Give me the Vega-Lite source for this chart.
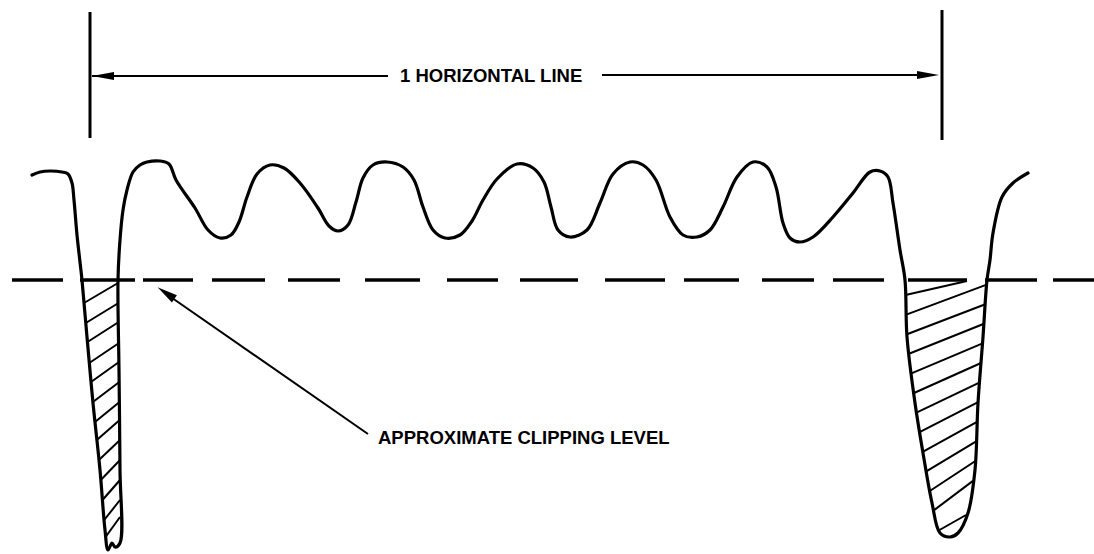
{
  "$schema": "https://vega.github.io/schema/vega-lite/v6.json",
  "width": 1094,
  "height": 554,
  "autosize": "none",
  "padding": 0,
  "background": "white",
  "config": {"view": {"stroke": null}},
  "layer": [
    {
      "data": {"values": [
        {"i":0,"x":32,"y":175},{"i":1,"x":40,"y":172},{"i":2,"x":50,"y":171},{"i":3,"x":62,"y":172},{"i":4,"x":68,"y":174},{"i":5,"x":72,"y":183},{"i":6,"x":74,"y":200},{"i":7,"x":77,"y":235},{"i":8,"x":80,"y":262},{"i":9,"x":82,"y":280},{"i":10,"x":87,"y":337},{"i":11,"x":93,"y":403},{"i":12,"x":100,"y":470},{"i":13,"x":105,"y":530},{"i":14,"x":108,"y":550},{"i":15,"x":112,"y":543},{"i":16,"x":115,"y":547},{"i":17,"x":120,"y":543},{"i":18,"x":120,"y":470},{"i":19,"x":119,"y":370},{"i":20,"x":118,"y":280},{"i":21,"x":120,"y":240},{"i":22,"x":123,"y":210},{"i":23,"x":127,"y":190},{"i":24,"x":133,"y":172},{"i":25,"x":140,"y":165},{"i":26,"x":147,"y":162},{"i":27,"x":160,"y":161},{"i":28,"x":169,"y":164},{"i":29,"x":176,"y":180},{"i":30,"x":195,"y":208},{"i":31,"x":208,"y":230},{"i":32,"x":220,"y":238},{"i":33,"x":231,"y":235},{"i":34,"x":239,"y":222},{"i":35,"x":247,"y":197},{"i":36,"x":257,"y":174},{"i":37,"x":270,"y":165},{"i":38,"x":284,"y":168},{"i":39,"x":300,"y":183},{"i":40,"x":318,"y":208},{"i":41,"x":329,"y":226},{"i":42,"x":338,"y":231},{"i":43,"x":348,"y":225},{"i":44,"x":356,"y":202},{"i":45,"x":363,"y":178},{"i":46,"x":373,"y":165},{"i":47,"x":387,"y":162},{"i":48,"x":403,"y":167},{"i":49,"x":414,"y":180},{"i":50,"x":423,"y":207},{"i":51,"x":433,"y":230},{"i":52,"x":445,"y":238},{"i":53,"x":460,"y":235},{"i":54,"x":472,"y":221},{"i":55,"x":483,"y":200},{"i":56,"x":497,"y":179},{"i":57,"x":517,"y":164},{"i":58,"x":533,"y":168},{"i":59,"x":544,"y":182},{"i":60,"x":551,"y":207},{"i":61,"x":558,"y":230},{"i":62,"x":570,"y":237},{"i":63,"x":587,"y":230},{"i":64,"x":600,"y":203},{"i":65,"x":613,"y":174},{"i":66,"x":630,"y":162},{"i":67,"x":643,"y":165},{"i":68,"x":656,"y":180},{"i":69,"x":670,"y":217},{"i":70,"x":683,"y":235},{"i":71,"x":697,"y":237},{"i":72,"x":710,"y":230},{"i":73,"x":723,"y":207},{"i":74,"x":737,"y":177},{"i":75,"x":753,"y":162},{"i":76,"x":767,"y":167},{"i":77,"x":776,"y":187},{"i":78,"x":783,"y":223},{"i":79,"x":790,"y":238},{"i":80,"x":800,"y":242},{"i":81,"x":813,"y":237},{"i":82,"x":833,"y":217},{"i":83,"x":853,"y":193},{"i":84,"x":870,"y":172},{"i":85,"x":880,"y":171},{"i":86,"x":888,"y":177},{"i":87,"x":893,"y":203},{"i":88,"x":900,"y":250},{"i":89,"x":905,"y":280},{"i":90,"x":907,"y":337},{"i":91,"x":915,"y":403},{"i":92,"x":923,"y":453},{"i":93,"x":932,"y":503},{"i":94,"x":940,"y":533},{"i":95,"x":950,"y":537},{"i":96,"x":958,"y":533},{"i":97,"x":968,"y":513},{"i":98,"x":975,"y":470},{"i":99,"x":978,"y":403},{"i":100,"x":983,"y":337},{"i":101,"x":987,"y":280},{"i":102,"x":990,"y":260},{"i":103,"x":993,"y":233},{"i":104,"x":1002,"y":197},{"i":105,"x":1013,"y":183},{"i":106,"x":1028,"y":173}
      ]},
      "mark": {"type": "line", "color": "black", "strokeWidth": 3.2, "interpolate": "catmull-rom", "strokeJoin": "round", "strokeCap": "round"},
      "encoding": {
        "x": {"field": "x", "type": "quantitative", "scale": {"domain": [0, 1094]}, "axis": null},
        "y": {"field": "y", "type": "quantitative", "scale": {"domain": [554, 0]}, "axis": null},
        "order": {"field": "i", "type": "quantitative"}
      }
    },
    {
      "data": {"values": [
        {"x":84,"y":303,"x2":118,"y2":283},{"x":85.8,"y":323,"x2":118.5,"y2":303},{"x":87.5,"y":342,"x2":118.7,"y2":322},{"x":89.3,"y":363,"x2":119,"y2":343},{"x":91,"y":382,"x2":119,"y2":362},{"x":92.9,"y":402,"x2":119.3,"y2":382},{"x":95,"y":422,"x2":119.5,"y2":402},{"x":96.8,"y":440,"x2":119.7,"y2":420},{"x":98.9,"y":460,"x2":120,"y2":440},{"x":100.8,"y":480,"x2":120,"y2":460},{"x":102.5,"y":500,"x2":120,"y2":480},{"x":104.2,"y":520,"x2":120,"y2":500},{"x":105.6,"y":537,"x2":120,"y2":517},
        {"x":905.5,"y":295,"x2":967,"y2":281},{"x":906.3,"y":314.6,"x2":986.7,"y2":284.6},{"x":907,"y":334.2,"x2":985.3,"y2":304.2},{"x":909,"y":353.8,"x2":984,"y2":323.8},{"x":911.4,"y":373.4,"x2":982.6,"y2":343.4},{"x":914,"y":393,"x2":981,"y2":363},{"x":916.5,"y":412.6,"x2":979.3,"y2":382.6},{"x":919.6,"y":432.2,"x2":978.1,"y2":402.2},{"x":922.7,"y":451.8,"x2":977,"y2":421.8},{"x":926.3,"y":471.4,"x2":976.2,"y2":441.4},{"x":929.8,"y":491,"x2":975.4,"y2":461},{"x":933.5,"y":510.6,"x2":973.3,"y2":480.6},{"x":939.5,"y":530,"x2":966,"y2":515}
      ]},
      "mark": {"type": "rule", "color": "black", "strokeWidth": 2},
      "encoding": {
        "x": {"field": "x", "type": "quantitative", "scale": {"domain": [0, 1094]}, "axis": null},
        "y": {"field": "y", "type": "quantitative", "scale": {"domain": [554, 0]}, "axis": null},
        "x2": {"field": "x2"},
        "y2": {"field": "y2"}
      }
    },
    {
      "data": {"values": [{"x": 12, "x2": 1094, "y": 280}]},
      "mark": {"type": "rule", "color": "black", "strokeWidth": 3.6, "strokeCap": "butt", "strokeDash": [51,17,55,8,50,19,53,23,52,25,55,27,51,22,58,27,60,19,55,23,52,19,51,24,59,18,52,16,60,20]},
      "encoding": {
        "x": {"field": "x", "type": "quantitative", "scale": {"domain": [0, 1094]}, "axis": null},
        "x2": {"field": "x2"},
        "y": {"field": "y", "type": "quantitative", "scale": {"domain": [554, 0]}, "axis": null}
      }
    },
    {
      "data": {"values": [{"x": 90, "y": 12, "y2": 138}, {"x": 942, "y": 10, "y2": 140}]},
      "mark": {"type": "rule", "color": "black", "strokeWidth": 3},
      "encoding": {
        "x": {"field": "x", "type": "quantitative", "scale": {"domain": [0, 1094]}, "axis": null},
        "y": {"field": "y", "type": "quantitative", "scale": {"domain": [554, 0]}, "axis": null},
        "y2": {"field": "y2"}
      }
    },
    {
      "data": {"values": [
        {"x": 92, "y": 76, "x2": 388, "y2": 76},
        {"x": 602, "y": 75, "x2": 930, "y2": 75},
        {"x": 368, "y": 434, "x2": 165, "y2": 293}
      ]},
      "mark": {"type": "rule", "color": "black", "strokeWidth": 2},
      "encoding": {
        "x": {"field": "x", "type": "quantitative", "scale": {"domain": [0, 1094]}, "axis": null},
        "y": {"field": "y", "type": "quantitative", "scale": {"domain": [554, 0]}, "axis": null},
        "x2": {"field": "x2"},
        "y2": {"field": "y2"}
      }
    },
    {
      "data": {"values": [{"x": 103, "y": 76}]},
      "mark": {"type": "point", "filled": true, "color": "black", "opacity": 1, "size": 484, "shape": "M -1 0 L 1 -0.36 L 1 0.36 Z"},
      "encoding": {
        "x": {"field": "x", "type": "quantitative", "scale": {"domain": [0, 1094]}, "axis": null},
        "y": {"field": "y", "type": "quantitative", "scale": {"domain": [554, 0]}, "axis": null}
      }
    },
    {
      "data": {"values": [{"x": 928, "y": 75}]},
      "mark": {"type": "point", "filled": true, "color": "black", "opacity": 1, "size": 484, "shape": "M 1 0 L -1 -0.36 L -1 0.36 Z"},
      "encoding": {
        "x": {"field": "x", "type": "quantitative", "scale": {"domain": [0, 1094]}, "axis": null},
        "y": {"field": "y", "type": "quantitative", "scale": {"domain": [554, 0]}, "axis": null}
      }
    },
    {
      "data": {"values": [{"x": 166, "y": 293}]},
      "mark": {"type": "point", "filled": true, "color": "black", "opacity": 1, "size": 420, "angle": 214.9, "shape": "M 1 0 L -1 -0.42 L -1 0.42 Z"},
      "encoding": {
        "x": {"field": "x", "type": "quantitative", "scale": {"domain": [0, 1094]}, "axis": null},
        "y": {"field": "y", "type": "quantitative", "scale": {"domain": [554, 0]}, "axis": null}
      }
    },
    {
      "data": {"values": [
        {"x": 400, "y": 76, "label": "1 HORIZONTAL LINE"},
        {"x": 378, "y": 438, "label": "APPROXIMATE CLIPPING LEVEL"}
      ]},
      "mark": {"type": "text", "align": "left", "baseline": "middle", "font": "Liberation Sans", "fontSize": 18.5, "fontWeight": "bold", "color": "black"},
      "encoding": {
        "x": {"field": "x", "type": "quantitative", "scale": {"domain": [0, 1094]}, "axis": null},
        "y": {"field": "y", "type": "quantitative", "scale": {"domain": [554, 0]}, "axis": null},
        "text": {"field": "label"}
      }
    }
  ]
}
